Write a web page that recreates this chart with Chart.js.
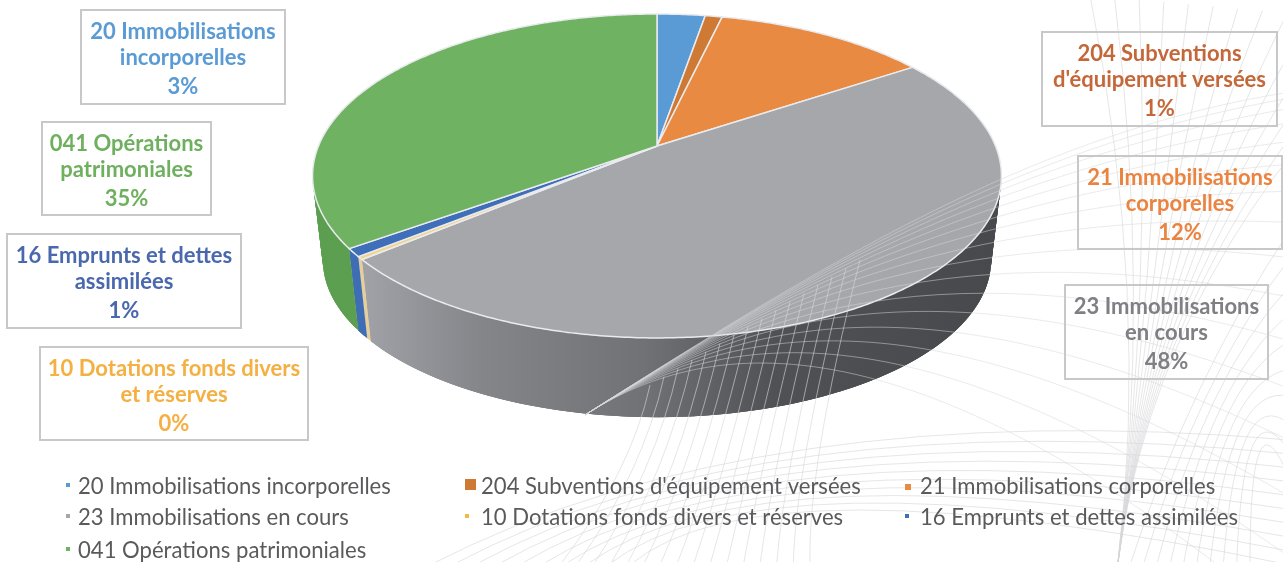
<!DOCTYPE html>
<html><head><meta charset="utf-8">
<style>html,body{margin:0;padding:0;background:#fff}canvas{display:block}</style>
<script src="https://cdn.jsdelivr.net/npm/chart.js@4"></script>
</head><body><canvas id="c" width="1283" height="562"></canvas>
<script>
const categories = ["20 Immobilisations incorporelles","204 Subventions d'équipement versées","21 Immobilisations corporelles","23 Immobilisations en cours","10 Dotations fonds divers et réserves","16 Emprunts et dettes assimilées","041 Opérations patrimoniales"];
const values = [2.7,0.95,12,48.3,0.3,0.8,34.95];
const percentLabels = ["3%","1%","12%","48%","0%","1%","35%"];
const topColors = ["#5b9bd5","#cf7a34","#e98a42","#a6a7aa","#f0d591","#3f6fb8","#6fb262"];
const wallColors = ["#4f86b8","#b0652a","#c8703a",null,"#e6cf9a","#3f6eb5","#5d9f50"];
const labelColors = ["#5b9bd5","#c4683a","#ea8440","#7f7f84","#f4b042","#4a68ad","#6fb05f"];
const labelLines = [["20 Immobilisations","incorporelles"],["204 Subventions","d'équipement versées"],["21 Immobilisations","corporelles"],["23 Immobilisations","en cours"],["10 Dotations fonds divers","et réserves"],["16 Emprunts et dettes","assimilées"],["041 Opérations","patrimoniales"]];
const labelBoxes = [[81,10,285,104],[1042,32,1277,126],[1078,156,1282,249],[1065,285,1268,379],[40,347,308,440],[7,234,241,328],[42,122,211,215]];
const legendCells = [[66,78,494],[465,481,494],[905,920,494],[66,78,525],[465,481,525],[905,920,525],[66,78,558]];
const legendMarks = [4,11,6,4,4,4,4];

// perspective of the disc: unit circle -> screen
const P = {cx:657, apex:146, k:338.5, a:129.4, c:-0.185, depthScale:0.97, bottomApex:231};
function proj(t,bottom){
  const u=Math.sin(t), v=-Math.cos(t), w=1+P.c*v;
  const x=P.k*u/w, y=(P.a*v+P.apex)/w-P.apex;
  if(bottom){ return [P.cx+x*P.depthScale, P.bottomApex+y*P.depthScale]; }
  return [P.cx+x, P.apex+y];
}
function rim(ctx,a0,a1,bottom,first){
  const n=Math.max(2,Math.ceil(Math.abs(a1-a0)/0.01));
  for(let i=0;i<=n;i++){
    const p=proj(a0+(a1-a0)*i/n,bottom);
    if(i===0&&first) ctx.moveTo(p[0],p[1]); else ctx.lineTo(p[0],p[1]);
  }
}
class Arc3D extends Chart.ArcElement{
  draw(ctx){
    const a0=this.startAngle+Math.PI/2, a1=this.endAngle+Math.PI/2;
    ctx.save();
    ctx.beginPath();
    ctx.moveTo(P.cx,P.apex);
    rim(ctx,a0,a1,false,false);
    ctx.closePath();
    ctx.fillStyle=this.options.backgroundColor;
    ctx.fill();
    ctx.strokeStyle=this.options.borderColor;
    ctx.lineWidth=this.options.borderWidth;
    ctx.lineJoin='round';
    ctx.stroke();
    ctx.restore();
  }
}
Arc3D.id='arc3d';
Arc3D.defaults=Object.assign({},Chart.ArcElement.defaults);
Arc3D.defaultRoutes=Chart.ArcElement.defaultRoutes;
class Pie3D extends Chart.PieController{}
Pie3D.id='pie3d';
Pie3D.defaults=Object.assign({},Chart.PieController.defaults,{dataElementType:'arc3d'});
Pie3D.overrides=Chart.PieController.overrides;
Chart.register(Arc3D,Pie3D);

const walls={id:'walls',beforeDatasetsDraw(chart){
  const ctx=chart.ctx, arcs=chart.getDatasetMeta(0).data;
  const g=ctx.createLinearGradient(358,0,990,0);
  g.addColorStop(0,'#a2a3a8');g.addColorStop(.2,'#848589');g.addColorStop(.45,'#717276');
  g.addColorStop(.66,'#505154');g.addColorStop(1,'#48494c');
  arcs.forEach((arc,i)=>{
    const a0=arc.startAngle+Math.PI/2,a1=arc.endAngle+Math.PI/2;
    const n=Math.max(2,Math.ceil((a1-a0)/0.01));
    ctx.fillStyle=wallColors[i]||g;
    for(let j=0;j<n;j++){
      const t0=a0+(a1-a0)*j/n,t1=Math.min(a1,a0+(a1-a0)*(j+1)/n+0.02);
      const A=proj(t0,false),B=proj(t1,false),C=proj(t1,true),D=proj(t0,true);
      ctx.beginPath();
      ctx.moveTo(A[0],A[1]);ctx.lineTo(B[0],B[1]);ctx.lineTo(C[0],C[1]);ctx.lineTo(D[0],D[1]);
      ctx.closePath();ctx.fill();
    }
  });
}};
function mesh(ctx){
  ctx.save();
  ctx.lineWidth=1;
  ctx.strokeStyle='rgba(214,215,218,.5)';
  const N=16;
  for(let i=0;i<N;i++){ // fan leaving the diagonal bundle towards the right edge
    const s=i/(N-1);
    ctx.beginPath();ctx.moveTo(585,415);
    ctx.bezierCurveTo(850-150*s,246+95*s,1050-150*s,130+170*s,1290,92+470*s*s+60*s);
    ctx.stroke();
  }
  ctx.strokeStyle='rgba(214,215,218,.62)';
  for(let i=0;i<14;i++){ // upper-right bundle
    const s=i/13;
    ctx.beginPath();ctx.moveTo(1118,562);
    ctx.quadraticCurveTo(1150+8*s,300-40*s,1090+s*320,-5+s*30);
    ctx.stroke();
  }
  for(let i=0;i<16;i++){ // meridians across the wall
    const s=i/15;
    ctx.beginPath();ctx.moveTo(650+s*210,385-s*125);
    ctx.quadraticCurveTo(632+s*175,470,560+s*250,565);
    ctx.stroke();
  }
  for(let i=0;i<10;i++){ // wide low arcs
    const s=i/9;
    ctx.beginPath();ctx.moveTo(430+s*200,565);
    ctx.quadraticCurveTo(760,395+s*60,1290,440+s*125);
    ctx.stroke();
  }
  for(let i=0;i<10;i++){ // diagonal lines lower right
    const s=i/9;
    ctx.beginPath();ctx.moveTo(1130+s*120,565);
    ctx.quadraticCurveTo(1190+s*60,380,1290,230+s*250);
    ctx.stroke();
  }
  ctx.restore();
}
const annotations={id:'annotations',afterDatasetsDraw(chart){
  const ctx=chart.ctx;
  mesh(ctx);
  ctx.save();
  ctx.textAlign='center';ctx.textBaseline='alphabetic';
  labelBoxes.forEach((b,i)=>{
    ctx.strokeStyle='#c8c8cb';ctx.lineWidth=2;
    ctx.strokeRect(b[0],b[1],b[2]-b[0],b[3]-b[1]);
    ctx.fillStyle=labelColors[i];ctx.font='bold 22px Lato';
    const mid=(b[0]+b[2])/2;
    ctx.fillText(labelLines[i][0],mid,b[1]+29);
    ctx.fillText(labelLines[i][1],mid,b[1]+55);
    ctx.fillText(percentLabels[i],mid,b[1]+84);
  });
  ctx.textAlign='left';
  categories.forEach((c,i)=>{
    const [mx,tx,y]=legendCells[i], m=legendMarks[i];
    ctx.fillStyle=topColors[i]==='#f0d591'?'#f4b942':topColors[i];
    ctx.fillRect(mx,y-7-m-(m>4?-3:0),m,m);
    ctx.fillStyle='#5a5a5c';ctx.font='22.1px Lato';
    ctx.fillText(c,tx,y);
  });
  ctx.restore();
}};
new Chart(document.getElementById('c'),{
  type:'pie3d',
  data:{labels:categories,datasets:[{data:values,backgroundColor:topColors,borderColor:'#e9ebee',borderWidth:1.5}]},
  options:{responsive:false,animation:false,plugins:{legend:{display:false},tooltip:{enabled:false}}},
  plugins:[walls,annotations]
});
</script></body></html>
